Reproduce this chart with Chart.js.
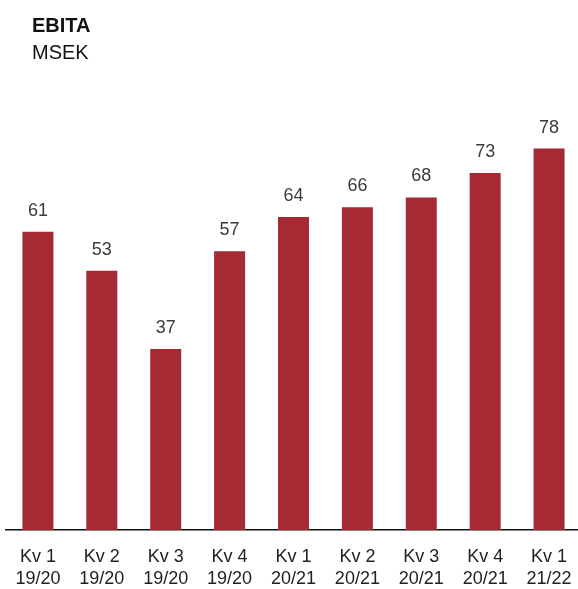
<!DOCTYPE html>
<html>
<head>
<meta charset="utf-8">
<script src="https://cdn.jsdelivr.net/npm/chart.js@4"></script>
<style>
  body { margin: 0; background: #fff; font-family: "Liberation Sans", Arial, sans-serif; }
  #wrap { position: relative; width: 578px; height: 589px; overflow: hidden; }
  #title { position: absolute; left: 32px; top: 12px; color: #111; line-height: 27px; font-size: 20px; }
  #title b { font-weight: bold; }
</style>
</head>
<body>
<div id="wrap">
  <canvas id="ebitaChart" width="581" height="589"></canvas>
  <div id="title"><b>EBITA</b><br>MSEK</div>
</div>
<script>
// Quarter labels (two lines each)
const quarters = ['Kv 1', 'Kv 2', 'Kv 3', 'Kv 4', 'Kv 1', 'Kv 2', 'Kv 3', 'Kv 4', 'Kv 1'];
const years = ['19/20', '19/20', '19/20', '19/20', '20/21', '20/21', '20/21', '20/21', '21/22'];
// EBITA in MSEK
const ebita = [61, 53, 37, 57, 64, 66, 68, 73, 78];

const labels = quarters.map((q, i) => [q, years[i]]);

// Draw value labels above each bar
const valueLabels = {
    id: 'valueLabels',
    afterDatasetsDraw(chart) {
        const ctx = chart.ctx;
        const meta = chart.getDatasetMeta(0);
        ctx.save();
        ctx.font = '18px "Liberation Sans", Arial, sans-serif';
        ctx.fillStyle = '#3a3a3a';
        ctx.textAlign = 'center';
        ctx.textBaseline = 'alphabetic';
        meta.data.forEach((bar, i) => {
            ctx.fillText(ebita[i], bar.x, bar.y - 16);
        });
        ctx.restore();
    }
};

new Chart(document.getElementById('ebitaChart'), {
    type: 'bar',
    data: {
        labels: labels,
        datasets: [{
            data: ebita,
            backgroundColor: '#a52a33',
            barPercentage: 0.971,
            categoryPercentage: 0.5
        }]
    },
    options: {
        responsive: false,
        animation: false,
        layout: { padding: { top: 41, left: 6, right: 0, bottom: 0 } },
        plugins: {
            legend: { display: false },
            tooltip: { enabled: false }
        },
        scales: {
            x: {
                grid: { display: false, drawTicks: false },
                border: { display: true, color: '#111', width: 1.5 },
                ticks: {
                    color: '#222',
                    padding: 16,
                    font: { family: '"Liberation Sans", Arial, sans-serif', size: 18, lineHeight: 1.22 },
                    maxRotation: 0,
                    autoSkip: false
                },
                afterFit(scale) {
                    scale.height = 59;
                    scale.paddingLeft = 0;
                    scale.paddingRight = 0;
                }
            },
            y: {
                display: false,
                min: 0,
                max: 100
            }
        }
    },
    plugins: [valueLabels]
});
</script>
</body>
</html>
